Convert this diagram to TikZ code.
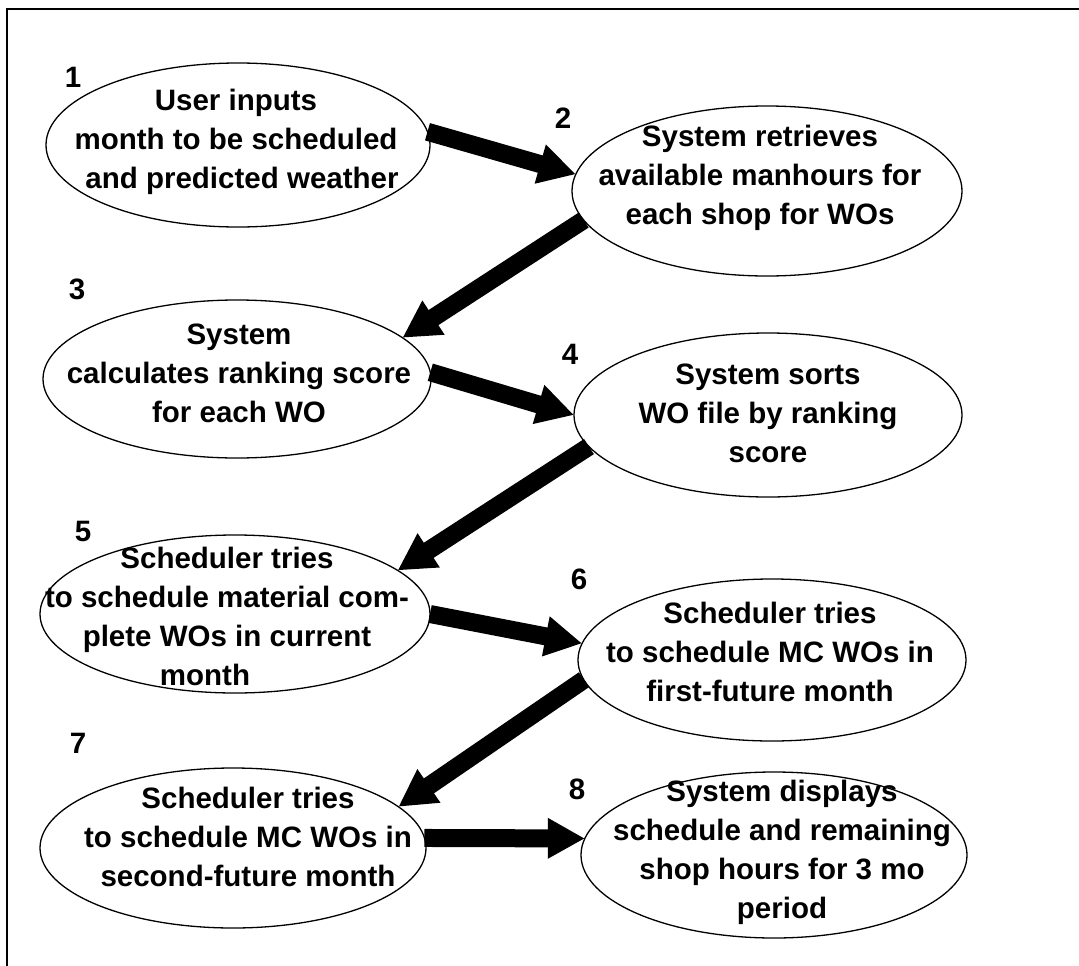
\documentclass[tikz,border=0pt]{standalone}
\usepackage{fontspec}
\setmainfont{Liberation Sans}
\usetikzlibrary{shapes.geometric,arrows.meta}
\begin{document}
\begin{tikzpicture}[x=1pt,y=-1pt,
  ell/.style={ellipse,draw,line width=1.3pt,inner sep=0pt,outer sep=0pt},
  txt/.style={align=center,font=\fontsize{29.5}{39}\selectfont\bfseries,inner sep=0pt},
  num/.style={font=\fontsize{29.5}{30}\selectfont\bfseries,inner sep=0pt},
  bigarrow/.style={line width=18pt,-{Triangle[length=37pt,width=38pt]}},
]
\useasboundingbox (0,0) rectangle (1079,966);
% frame
\draw[line width=2.5pt] (7,966) -- (7,9) -- (1079,9);

% ellipses
\node[ell,minimum width=384pt,minimum height=164pt] (e1) at (238,145) {};
\node[ell,minimum width=390pt,minimum height=170pt] (e2) at (767,191) {};
\node[ell,minimum width=388pt,minimum height=158pt] (e3) at (237,379) {};
\node[ell,minimum width=388pt,minimum height=164pt] (e4) at (768,415) {};
\node[ell,minimum width=390pt,minimum height=158pt] (e5) at (235,614) {};
\node[ell,minimum width=388pt,minimum height=162pt] (e6) at (772,660) {};
\node[ell,minimum width=386pt,minimum height=160pt] (e7) at (233,848) {};
\node[ell,minimum width=386pt,minimum height=166pt] (e8) at (774,855) {};

% texts
\node[txt] (t1) at (236,142) {User inputs\\month to be scheduled\\\hspace*{12pt}and predicted weather};
\node[txt] (t2) at (760,178) {System retrieves\\available manhours for\\each shop for WOs};
\node[txt] (t3) at (239,373) {System\\calculates ranking score\\for each WO};
\node[txt] (t4) at (768,413) {System sorts\\WO file by ranking\\score};
\node[txt] (t5) at (227,616) {Scheduler tries\\to schedule material com-\\plete WOs in current\hspace*{44pt}\\month\hspace*{44pt}};
\node[txt] (t6) at (770,652) {Scheduler tries\\to schedule MC WOs in\\first-future month};
\node[txt] (t7) at (248,837) {Scheduler tries\\to schedule MC WOs in\\second-future month};
\node[txt] (t8) at (782,852) {System displays\\schedule and remaining\\shop hours for 3 mo\\period};

% step numbers
\node[num] (n1) at (73,77) {1};
\node[num] (n2) at (563,118) {2};
\node[num] (n3) at (77,289) {3};
\node[num] (n4) at (570,354) {4};
\node[num] (n5) at (83,531) {5};
\node[num] (n6) at (579,579) {6};
\node[num] (n7) at (78,743) {7};
\node[num] (n8) at (577,789) {8};

% arrows
\draw[bigarrow] (e1.4) -- (e2.175);
\draw[bigarrow] (e2.189) -- (e3.14);
\draw[bigarrow] (e3.2) -- (e4.180);
\draw[bigarrow] (e4.190) -- (e5.15);
\draw[bigarrow] (e5.0) -- (e6.175);
\draw[bigarrow] (e6.186) -- (e7.14);
\draw[bigarrow] (e7.3) -- (e8.175);
\end{tikzpicture}
\end{document}
